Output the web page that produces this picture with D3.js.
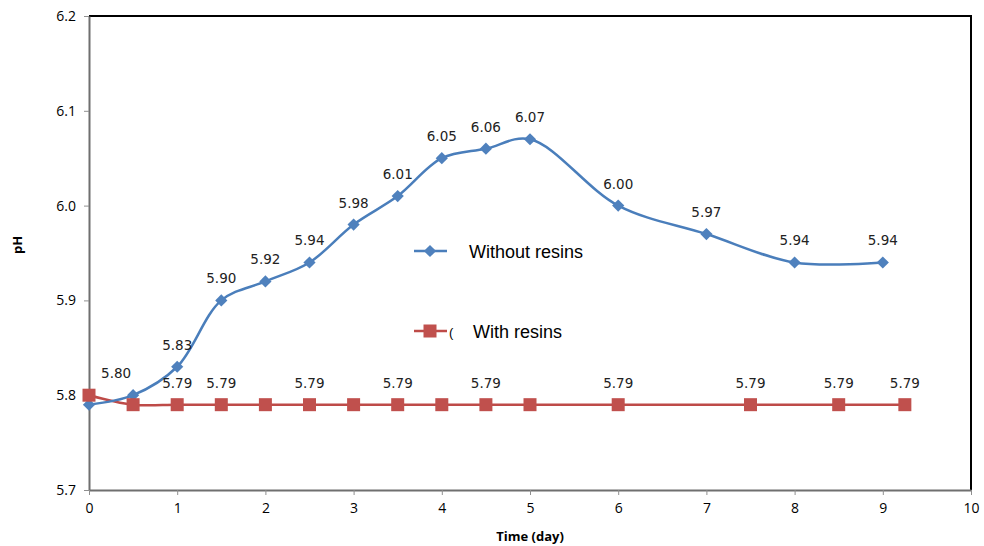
<!DOCTYPE html>
<html><head><meta charset="utf-8">
<script src="https://cdn.jsdelivr.net/npm/d3@7"></script>
<style>body{margin:0;background:#fff}</style>
</head><body>
<script>
const blueX = [0,0.5,1,1.5,2,2.5,3,3.5,4,4.5,5,6,7,8,9];
const blueY = [5.79,5.80,5.83,5.90,5.92,5.94,5.98,6.01,6.05,6.06,6.07,6.00,5.97,5.94,5.94];
const blueLabelled = [false,true,true,true,true,true,true,true,true,true,true,true,true,true,true];
const redX = [0,0.5,1,1.5,2,2.5,3,3.5,4,4.5,5,6,7.5,8.5,9.25];
const redY = [5.80,5.79,5.79,5.79,5.79,5.79,5.79,5.79,5.79,5.79,5.79,5.79,5.79,5.79,5.79];
const redLabelled = [false,false,true,true,false,true,false,true,false,true,false,true,true,true,true];
const xTicks = [0,1,2,3,4,5,6,7,8,9,10];
const yTicks = [5.7,5.8,5.9,6.0,6.1,6.2];
const seriesNames = ["Without resins","With resins"];

const W=984,H=546;
const svg=d3.select("body").append("svg").attr("width",W).attr("height",H);
const x=d3.scaleLinear().domain([0,10]).range([89,971]);
const y=d3.scaleLinear().domain([5.7,6.2]).range([490,16]);
const blue="#4A7EBB", blueM="#4F81BD", red="#BE4B48", redM="#C0504D";

// plot frame top/right
svg.append("path").attr("d",`M89,16H971V490`).attr("fill","none").attr("stroke","#000").attr("stroke-width",2);
// y axis
const ya=svg.append("g").attr("transform","translate(89,0)")
 .call(d3.axisLeft(y).tickValues(yTicks).tickFormat(d3.format(".1f")).tickSize(5).tickSizeOuter(0));
ya.select(".domain").attr("stroke","#6f6f6f").attr("stroke-width",2);
ya.selectAll(".tick line").attr("stroke","#8f8f8f");
ya.selectAll("text").attr("font-family","Open Sans, sans-serif").attr("font-size",14).attr("fill","#000").attr("x",-13);
const xa=svg.append("g").attr("transform","translate(0,490)")
 .call(d3.axisBottom(x).tickValues(xTicks).tickFormat(d3.format("d")).tickSize(5).tickSizeOuter(0));
xa.select(".domain").attr("stroke","#6f6f6f").attr("stroke-width",2);
xa.selectAll(".tick line").attr("stroke","#8f8f8f");
xa.selectAll("text").attr("font-family","Open Sans, sans-serif").attr("font-size",14).attr("fill","#000").attr("y",13);

svg.append("text").attr("x",530).attr("y",541).attr("text-anchor","middle")
 .attr("font-family","Open Sans, sans-serif").attr("font-weight","bold").attr("font-size",13).text("Time (day)");
svg.append("text").attr("transform","translate(22,245) rotate(-90)").attr("text-anchor","middle")
 .attr("font-family","Open Sans, sans-serif").attr("font-weight","bold").attr("font-size",13).text("pH");

const line=d3.line().x(d=>x(d[0])).y(d=>y(d[1])).curve(d3.curveCatmullRom.alpha(0.5));
const bData=blueX.map((v,i)=>[v,blueY[i]]);
const rData=redX.map((v,i)=>[v,redY[i]]);
svg.append("path").attr("d",line(rData)).attr("fill","none").attr("stroke",red).attr("stroke-width",2.5);
svg.append("path").attr("d",line(bData)).attr("fill","none").attr("stroke",blue).attr("stroke-width",2.5);

const diamond=d3.symbol().type(d3.symbolDiamond2).size(95);
svg.selectAll(".bm").data(bData).enter().append("path").attr("d",diamond)
 .attr("transform",d=>`translate(${x(d[0])},${y(d[1])})`).attr("fill",blueM);
svg.selectAll(".rm").data(rData).enter().append("rect")
 .attr("x",d=>x(d[0])-6.5).attr("y",d=>y(d[1])-6.5).attr("width",13).attr("height",13).attr("fill",redM);

const fmt=d3.format(".2f");
svg.selectAll(".bl").data(bData.filter((d,i)=>blueLabelled[i])).enter().append("text")
 .attr("x",d=>x(d[0])+(d[0]===0.5?-17:0)).attr("y",d=>y(d[1])-17).attr("text-anchor","middle")
 .attr("font-family","DejaVu Sans, sans-serif").attr("font-size",13.5).attr("fill","#222").text(d=>fmt(d[1]));
svg.selectAll(".rl").data(rData.filter((d,i)=>redLabelled[i])).enter().append("text")
 .attr("x",d=>x(d[0])).attr("y",d=>y(d[1])-17).attr("text-anchor","middle")
 .attr("font-family","DejaVu Sans, sans-serif").attr("font-size",13.5).attr("fill","#222").text(d=>fmt(d[1]));

// legend
const lg=svg.append("g");
lg.append("line").attr("x1",414).attr("x2",447).attr("y1",251).attr("y2",251).attr("stroke",blue).attr("stroke-width",2.5);
lg.append("path").attr("d",diamond).attr("transform","translate(430,251)").attr("fill",blueM);
lg.append("text").attr("x",469).attr("y",258).attr("font-family","Liberation Sans, Arial, sans-serif").attr("font-size",18).text(seriesNames[0]);
lg.append("line").attr("x1",414).attr("x2",447).attr("y1",331).attr("y2",331).attr("stroke",red).attr("stroke-width",2.5);
lg.append("rect").attr("x",423.5).attr("y",324.5).attr("width",13).attr("height",13).attr("fill",redM);
lg.append("text").attr("x",449).attr("y",337).attr("font-family","Liberation Sans, Arial, sans-serif").attr("font-size",13).text("(");
lg.append("text").attr("x",473).attr("y",338).attr("font-family","Liberation Sans, Arial, sans-serif").attr("font-size",18).text(seriesNames[1]);
</script>
</body></html>
